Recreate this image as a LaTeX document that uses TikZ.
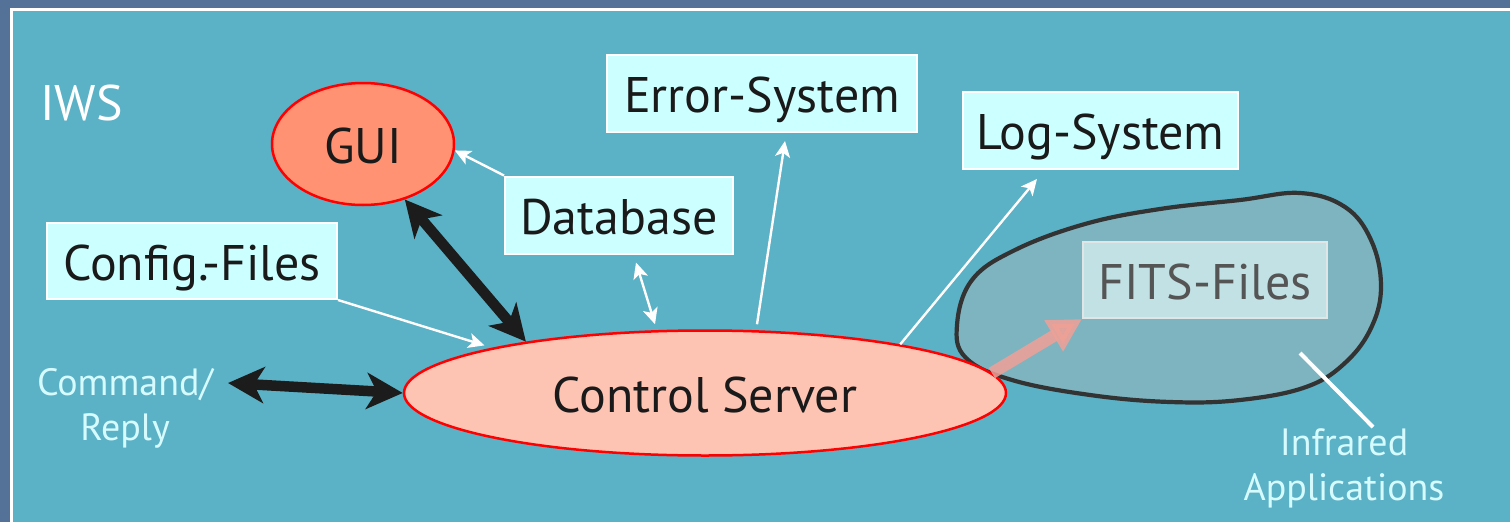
\documentclass[tikz,border=0pt]{standalone}
\usepackage{fontspec}
\setmainfont{PT Sans}
\usetikzlibrary{arrows.meta,shapes.geometric}

\definecolor{deskblue}{RGB}{84,113,152}
\definecolor{panel}{RGB}{91,177,197}
\definecolor{boxfill}{RGB}{204,255,255}
\definecolor{guifill}{RGB}{254,146,114}
\definecolor{csfill}{RGB}{253,196,180}
\definecolor{inktext}{RGB}{26,26,26}
\definecolor{paletext}{RGB}{214,251,255}
\definecolor{blobline}{RGB}{51,51,51}
\definecolor{blobfill}{RGB}{126,180,192}
\definecolor{fitsfill}{RGB}{206,233,235}
\definecolor{fitsline}{RGB}{224,230,230}
\definecolor{fitstext}{RGB}{85,85,85}
\definecolor{pinkarrow}{RGB}{240,160,150}
\definecolor{blackarrow}{RGB}{28,28,28}

\tikzset{
  every node/.style={font=\fontsize{50}{60}\selectfont, text=inktext, inner sep=0pt},
  labelbox/.style={draw=white, line width=2pt, fill=boxfill, text height=38pt, text depth=0pt},
  unit/.style={ellipse, draw=red, line width=2.5pt, text height=38pt, text depth=0pt},
  caption/.style={font=\fontsize{38}{45}\selectfont, text=paletext, align=center},
  heavylink/.style={draw=blackarrow, line width=10.5pt,
    {Stealth[length=36pt,width=36pt,inset=10pt]}-{Stealth[length=36pt,width=36pt,inset=10pt]}},
  wire/.style={draw=white, line width=2.4pt, -{Stealth[length=16pt,width=15pt,inset=4pt]}},
  wirebi/.style={draw=white, line width=2.4pt,
    {Stealth[length=16pt,width=15pt,inset=4pt]}-{Stealth[length=16pt,width=15pt,inset=4pt]}},
}

\begin{document}
\begin{tikzpicture}[x=1pt,y=-1pt]
\useasboundingbox (0,0) rectangle (1510,522);
\clip (0,0) rectangle (1510,522);

% slide background and the framed panel
\fill[deskblue] (0,0) rectangle (1510,522);
\draw[white, line width=2.5pt, fill=panel] (11.5,9.5) rectangle (1540,560);

% the infrared applications area
\draw[blobline, line width=4.2pt, fill=blobfill]
  plot[smooth cycle, tension=0.65] coordinates {
    (957,325) (972,280) (1015,250) (1085,224) (1160,209) (1240,200)
    (1300,193) (1345,207) (1371,240) (1381,285) (1372,326) (1346,362)
    (1306,387) (1240,400) (1170,402) (1090,395) (1012,380) (966,358)};
\node[draw=fitsline, line width=2pt, fill=fitsfill, fill opacity=0.85, text opacity=1,
      text=fitstext, minimum width=244pt, minimum height=76pt,
      text height=38pt, text depth=0pt] (fits) at (1205,280) {FITS-Files};

% title and free labels
\node[anchor=base west, text=white] (iws) at (40,120) {IWS};
\node[caption, anchor=base] (cmd) at (125,440) {Command/\\Reply};
\node[caption, anchor=base] (infra) at (1344,500) {Infrared\\Applications};

% subsystem boxes
\node[labelbox, minimum width=310pt, minimum height=77pt] (err) at (762,93.5) {Error-System};
\node[labelbox, minimum width=275pt, minimum height=77pt] (logsys) at (1100.5,130.5) {Log-System};
\node[labelbox, minimum width=228pt, minimum height=77pt] (db) at (619,215) {Database};
\node[labelbox, minimum width=290pt, minimum height=76pt] (conf) at (192,261) {Config.-Files};

% processes
\node[unit, fill=guifill, minimum width=182pt, minimum height=122pt] (gui) at (363,144) {GUI};
\node[unit, fill=csfill, minimum width=602pt, minimum height=125pt] (cs) at (705,393) {Control Server};

% connectors
\coordinate (cmdtip) at (228,383);
\draw[heavylink] (cmdtip) -- (cs.west);
\draw[heavylink] (gui.-53) -- (cs.164.6);
\draw[wire, shorten >=8pt] (conf.south east) -- (cs.168.7);
\draw[wire] (db.north west) -- (gui.-4);
\draw[wirebi] ([xshift=17pt,yshift=-8pt]db.south) -- ([xshift=-50pt,yshift=5pt]cs.north);
\draw[wire] ([xshift=52pt,yshift=5pt]cs.north) -- ([xshift=23pt,yshift=-8pt]err.south);
\draw[wire] (cs.14) -- ([xshift=-63.5pt,yshift=-9pt]logsys.south);
\draw[draw=pinkarrow, line width=12pt, opacity=0.85,
      -{Triangle[length=33pt,width=34pt]}] (cs.4.9) -- (fits.south west);

% pointer to the applications label
\coordinate (irin) at (1300,353);
\coordinate (irout) at (1373,427);
\draw[white, line width=4pt] (irin) -- (irout);
\end{tikzpicture}
\end{document}
